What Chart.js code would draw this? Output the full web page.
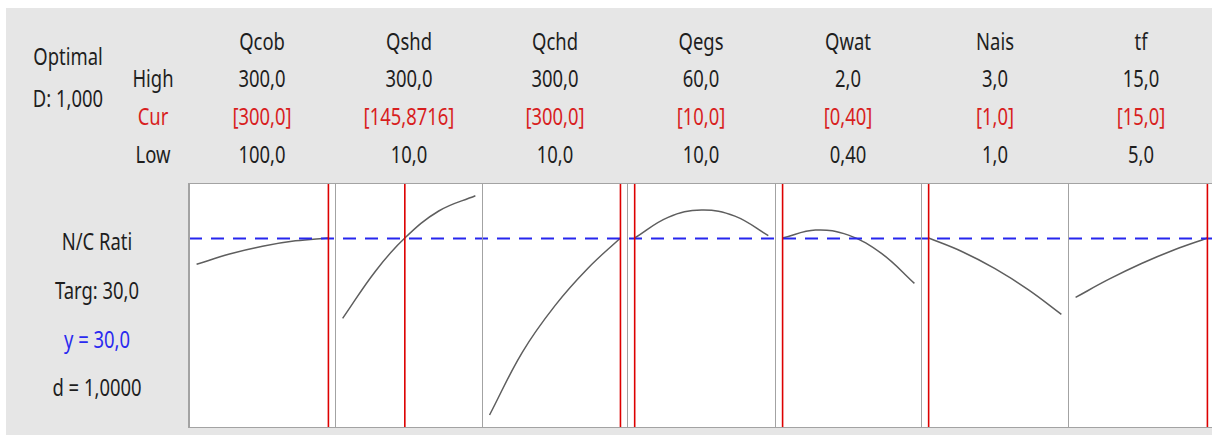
<!DOCTYPE html>
<html>
<head>
<meta charset="utf-8">
<script src="https://cdn.jsdelivr.net/npm/chart.js@4.4.1/dist/chart.umd.min.js"></script>
<style>
  html,body{margin:0;padding:0;}
  body{width:1212px;height:435px;background:#fff;overflow:hidden;position:relative;font-family:"Noto Sans","Open Sans",sans-serif;}
  #bg{position:absolute;left:6px;top:8px;right:0;bottom:0;background:#e6e6e6;}
  .t{position:absolute;white-space:nowrap;font-size:19px;color:#1e1e1e;transform:translate(-50%,-50%) scale(0.97,1.2);line-height:1;}
  .red{color:#d81e1e;}
  .blue{color:#2a2af0;}
  #frame{position:absolute;left:188px;top:183px;width:1030px;height:245px;background:#a3a3a3;}
  canvas.p{position:absolute;background:#fff;}
</style>
</head>
<body>
<div id="bg"></div>
<div id="frame"></div>
<script>
// ---- data ----
const factors    = ['Qcob','Qshd','Qchd','Qegs','Qwat','Nais','tf'];
const highLabels = ['300,0','300,0','300,0','60,0','2,0','3,0','15,0'];
const curLabels  = ['[300,0]','[145,8716]','[300,0]','[10,0]','[0,40]','[1,0]','[15,0]'];
const lowLabels  = ['100,0','10,0','10,0','10,0','0,40','1,0','5,0'];
const lowValues  = [100, 10, 10, 10, 0.4, 1, 5];
const highValues = [300, 300, 300, 60, 2, 3, 15];
const curValues  = [300, 145.8716, 300, 10, 0.4, 1, 15];

const qcobX = [100, 150, 200, 250, 300];
const qcobY = [28.05, 28.81, 29.39, 29.79, 30.0];
const qshdX = [10, 82.5, 145.8716, 220, 300];
const qshdY = [24.05, 27.58, 30.0, 32.0, 33.13];
const qchdX = [10, 82.5, 155, 227.5, 300];
const qchdY = [16.89, 21.53, 24.99, 27.74, 30.0];
const qegsX = [10, 22.5, 35, 47.5, 60];
const qegsY = [30.0, 31.53, 32.07, 31.62, 30.17];
const qwatX = [0.4, 0.8, 1.2, 1.6, 2.0];
const qwatY = [30.0, 30.59, 30.21, 28.86, 26.64];
const naisX = [1, 1.5, 2, 2.5, 3];
const naisY = [30.0, 29.0, 27.73, 26.18, 24.35];
const tfX   = [5, 7.5, 10, 12.5, 15];
const tfY   = [25.6, 26.93, 28.11, 29.13, 30.0];

const responseName = 'N/C Rati';
const targetLabel  = 'Targ: 30,0';
const yLabel       = 'y = 30,0';
const dLabel       = 'd = 1,0000';
const optimalLabel = 'Optimal';
const compositeD   = 'D: 1,000';
const targetValue  = 30.0;
const yMin = 16, yMax = 34;

const seriesX = [qcobX, qshdX, qchdX, qegsX, qwatX, naisX, tfX];
const seriesY = [qcobY, qshdY, qchdY, qegsY, qwatY, naisY, tfY];

// ---- layout ----
const edges = [189, 335, 482, 627, 775, 921, 1068, 1214];
const panelTop = 184, panelH = 243;

function addText(txt, cx, cy, cls){
  const d = document.createElement('div');
  d.className = 't' + (cls ? ' ' + cls : '');
  d.textContent = txt;
  d.style.left = cx + 'px';
  d.style.top = cy + 'px';
  document.body.appendChild(d);
}

addText(optimalLabel, 68, 57);
addText(compositeD, 68, 99);
addText('High', 153, 79);
addText('Cur', 153, 117, 'red');
addText('Low', 153, 155);
addText(responseName, 97, 242);
addText(targetLabel, 97, 291);
addText(yLabel, 97, 340, 'blue');
addText(dLabel, 97, 388);

const refLines = {
  id: 'refLines',
  afterDatasetsDraw(chart, args, opts){
    const {ctx, chartArea, scales} = chart;
    ctx.save();
    const y = Math.round(scales.y.getPixelForValue(opts.target)) + 0.5;
    ctx.strokeStyle = '#2626ee';
    ctx.lineWidth = 2;
    ctx.setLineDash([13, 9]);
    ctx.lineDashOffset = opts.phase;
    ctx.beginPath();
    ctx.moveTo(chartArea.left, y);
    ctx.lineTo(chartArea.right, y);
    ctx.stroke();
    ctx.setLineDash([]);
    ctx.strokeStyle = '#dd0000';
    ctx.lineWidth = 1.6;
    const x = scales.x.getPixelForValue(opts.cur);
    ctx.beginPath();
    ctx.moveTo(x, chartArea.top);
    ctx.lineTo(x, chartArea.bottom);
    ctx.stroke();
    ctx.restore();
  }
};

for (let i = 0; i < factors.length; i++){
  const cx = (edges[i] + edges[i+1]) / 2;
  addText(factors[i], cx, 42);
  addText(highLabels[i], cx, 79);
  addText(curLabels[i], cx, 117, 'red');
  addText(lowLabels[i], cx, 155);

  const cv = document.createElement('canvas');
  cv.className = 'p';
  const left = edges[i] + 1;
  const w = edges[i+1] - edges[i] - 1;
  cv.width = w; cv.height = panelH;
  cv.style.left = left + 'px';
  cv.style.top = panelTop + 'px';
  cv.style.width = w + 'px';
  cv.style.height = panelH + 'px';
  document.body.appendChild(cv);

  const range = highValues[i] - lowValues[i];
  const pts = seriesX[i].map((x, k) => ({x: x, y: seriesY[i][k]}));
  new Chart(cv, {
    type: 'line',
    data: { datasets: [{
      data: pts,
      borderColor: '#5e5e5e',
      borderWidth: 1.5,
      pointRadius: 0,
      tension: 0.4,
      fill: false
    }]},
    options: {
      responsive: false,
      animation: false,
      events: [],
      layout: { padding: 0 },
      plugins: {
        legend: { display: false },
        tooltip: { enabled: false },
        refLines: { target: targetValue, cur: curValues[i], phase: left - edges[0] }
      },
      scales: {
        x: { type: 'linear', display: false, min: lowValues[i] - 0.05 * range, max: highValues[i] + 0.05 * range },
        y: { type: 'linear', display: false, min: yMin, max: yMax }
      }
    },
    plugins: [refLines]
  });
}
</script>
</body>
</html>
